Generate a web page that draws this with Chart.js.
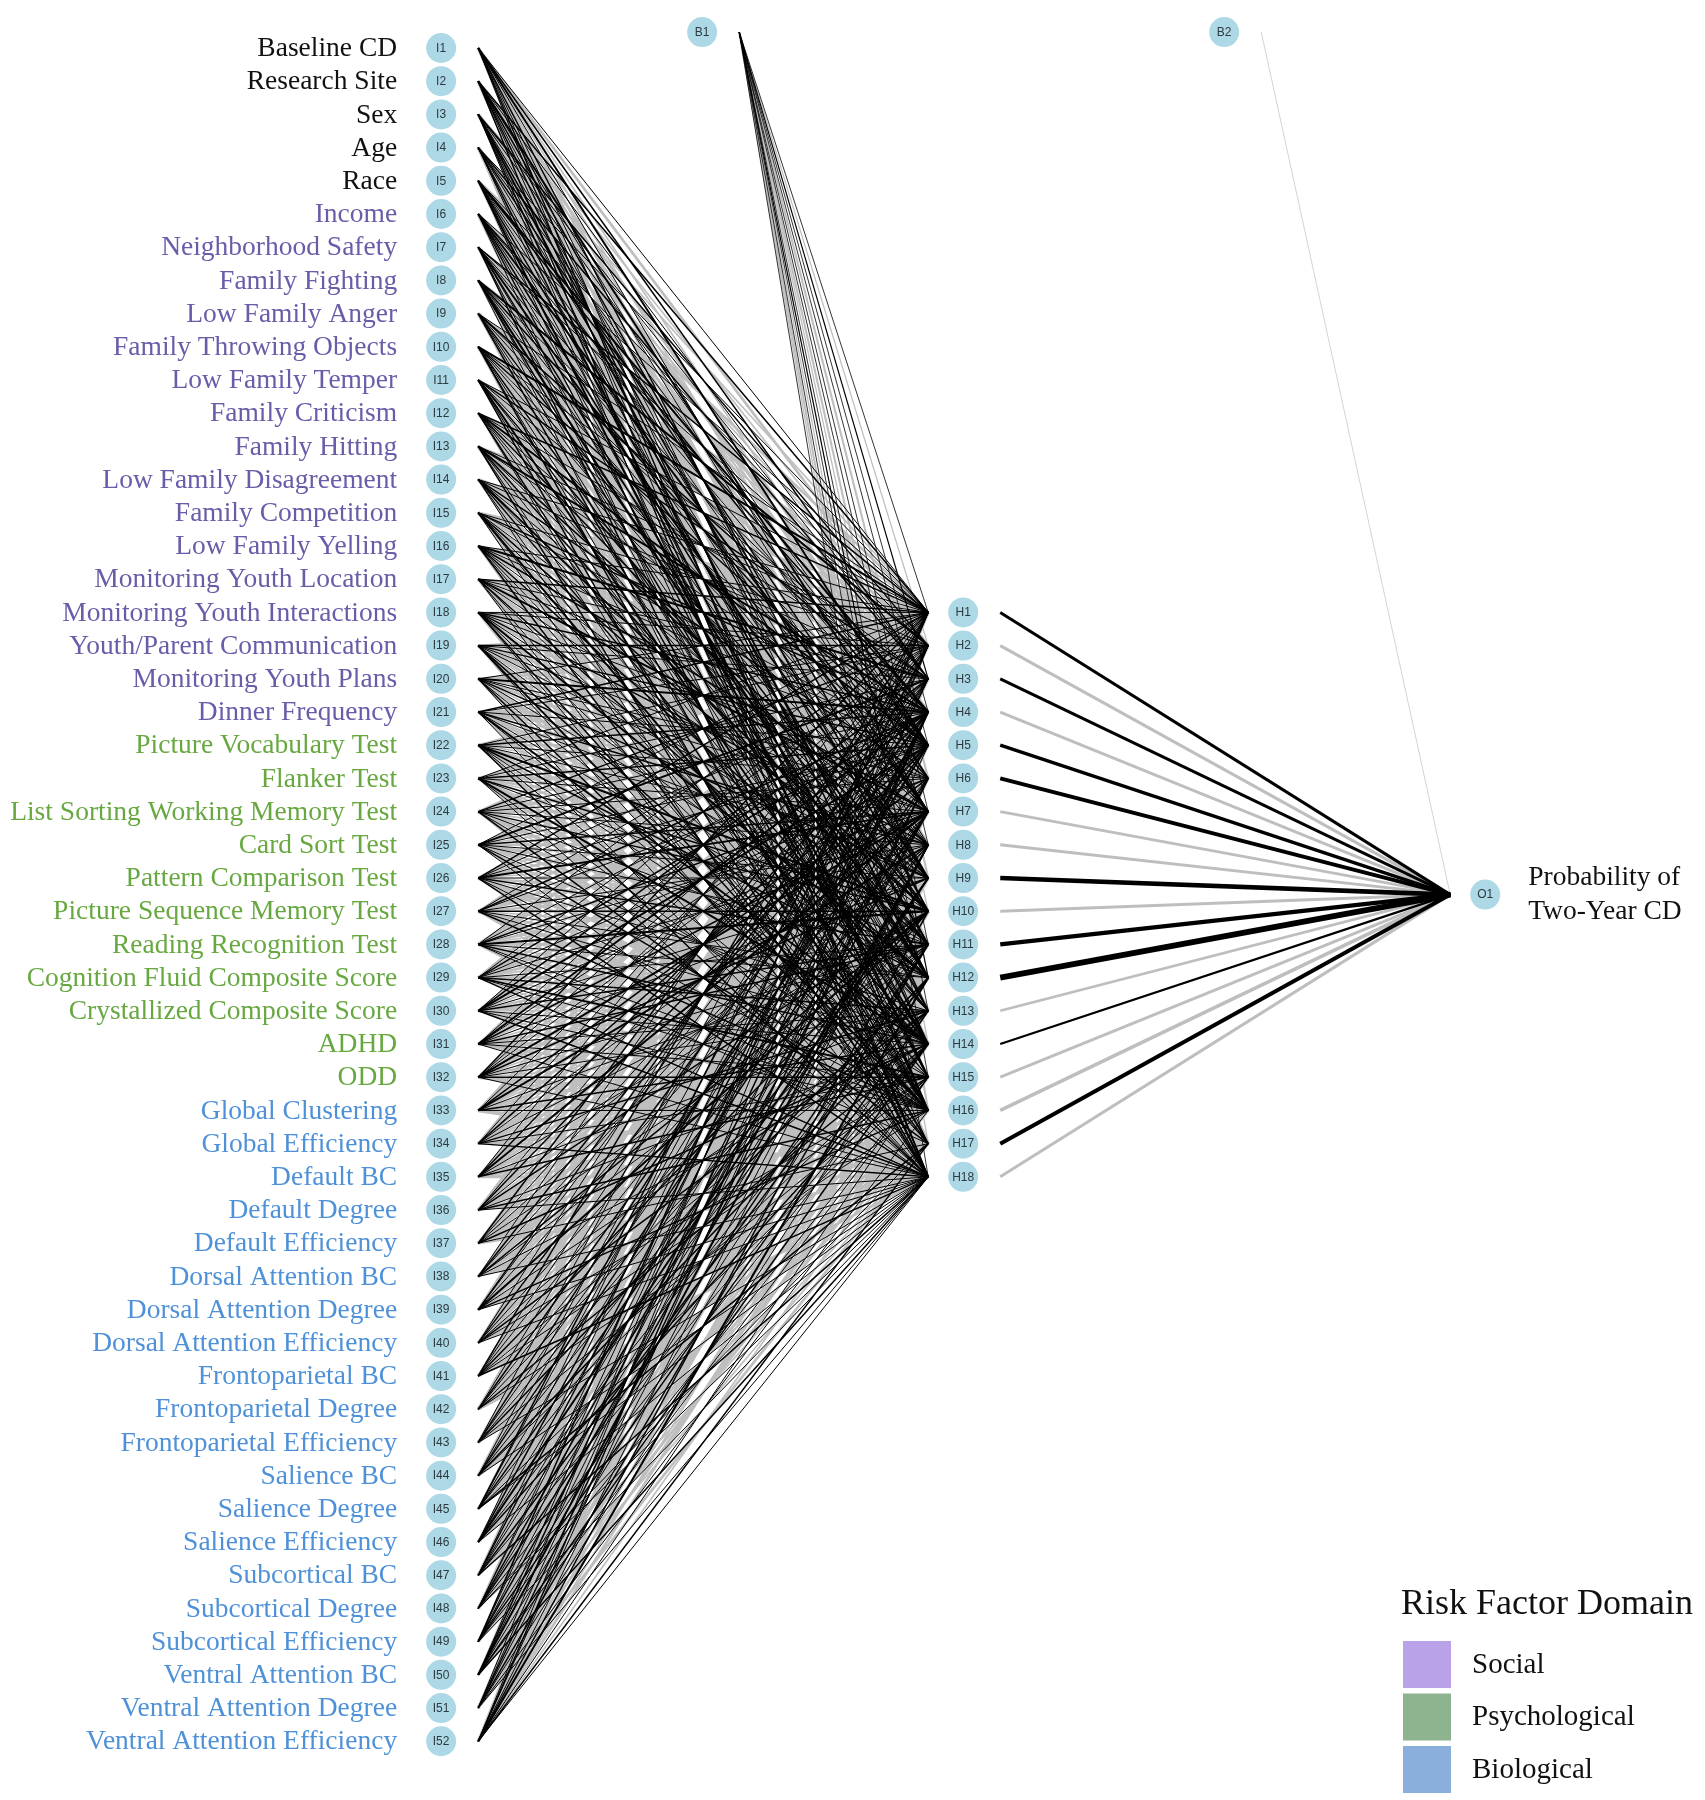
<!DOCTYPE html>
<html>
<head>
    <meta charset="UTF-8" />
    <title>Neural Network - Probability of Two-Year CD</title>
    <script src="https://cdn.jsdelivr.net/npm/chart.js"></script>
    <style>
        * { margin: 0; padding: 0; box-sizing: border-box; }
        body { background: #ffffff; }
        #wrap { width: 1705px; height: 1800px; position: relative; }
    </style>
</head>
<body>
<div id="wrap">
    <canvas id="netChart" width="1705" height="1800"></canvas>
</div>

<script>
    // ---- data ----
    const inputLabels = [
        'Baseline CD', 'Research Site', 'Sex', 'Age', 'Race',
        'Income', 'Neighborhood Safety', 'Family Fighting', 'Low Family Anger', 'Family Throwing Objects',
        'Low Family Temper', 'Family Criticism', 'Family Hitting', 'Low Family Disagreement', 'Family Competition',
        'Low Family Yelling', 'Monitoring Youth Location', 'Monitoring Youth Interactions', 'Youth/Parent Communication',
        'Monitoring Youth Plans', 'Dinner Frequency',
        'Picture Vocabulary Test', 'Flanker Test', 'List Sorting Working Memory Test', 'Card Sort Test',
        'Pattern Comparison Test', 'Picture Sequence Memory Test', 'Reading Recognition Test',
        'Cognition Fluid Composite Score', 'Crystallized Composite Score', 'ADHD', 'ODD',
        'Global Clustering', 'Global Efficiency', 'Default BC', 'Default Degree', 'Default Efficiency',
        'Dorsal Attention BC', 'Dorsal Attention Degree', 'Dorsal Attention Efficiency',
        'Frontoparietal BC', 'Frontoparietal Degree', 'Frontoparietal Efficiency',
        'Salience BC', 'Salience Degree', 'Salience Efficiency',
        'Subcortical BC', 'Subcortical Degree', 'Subcortical Efficiency',
        'Ventral Attention BC', 'Ventral Attention Degree', 'Ventral Attention Efficiency'
    ];
    // domain of each input: 0 = covariate, 1 = social, 2 = psychological, 3 = biological
    const inputDomain = [
        0, 0, 0, 0, 0,
        1, 1, 1, 1, 1, 1, 1, 1, 1, 1, 1, 1, 1, 1, 1, 1,
        2, 2, 2, 2, 2, 2, 2, 2, 2, 2, 2,
        3, 3, 3, 3, 3, 3, 3, 3, 3, 3, 3, 3, 3, 3, 3, 3, 3, 3, 3, 3
    ];
    const hiddenCount = 18;

    // input -> hidden weights, one string per input, one char per hidden node
    // uppercase = positive (black), lowercase = negative (grey), a..e = size 1..5
    const inputToHidden = [
        'AbBaCaAbaBcAbAaBbA', 'BaAbaCAbBaAaBcAbaB', 'aBAcAbaAbBaCaAbBaA', 'AaBbAcBaAbaAcBaAbb',
        'bAaCBaAbAaBbAaCbAa', 'AbaBAaCbAbBaAaBbcA', 'BAabAbAaCbaBAbaAbB', 'aCbAaBbAaAbCaBAabA',
        'AabBAcAbaBaAbAcBaa', 'CaAbBaAbAcaBbAaABb', 'AbBaAcbAaBAbaCbAaB', 'BaAaCbAbBaAcAbaBAa',
        'aAbCAabBAaBbAcaAbB', 'AcAbaBbAaCAbBaaAbA', 'bAaBAcaAbBaAbCAabA', 'AbCaAbBaAaBcAbAaBb',
        'BaAbAaCbAbaBAcaAbA', 'AAbBcAaBbAaCbAaBAb', 'aBAaBbAcAbaAbBaCAa', 'AbaCbAAbBaAcbAaBbA',
        'BAabAcaBAbbAaCAbaA', 'aAcBbAaAbCaBbAaAbB', 'AbAaBcAbaBAabCbAaA', 'bBaAcAbAaBbAcaAbBa',
        'AaCbAaBbAcAbaAbBaA', 'BbAaAbCaAbBaAcbAaB', 'aAbBAcaAbBaAbAcBaa', 'AcbAaBAbaCbAaBbAAb',
        'bAaBbAcAbaAbBaCAaB', 'AbBaCbAaAbBcaAbAaB', 'aAbCAbBaAaBbAcAbaA', 'BaAbAaCbBaAbAaBcbA',
        'abAbaBaCbaAbaBbAac', 'bAabBaAbcAbaBaAbaB', 'AbaBbaCabAbaAbBaab', 'baAbBabAaBcabAaBbA',
        'aBbaAbaAcbAbaBbaAb', 'AabBaAbcaBAbaAbbaA', 'baBAabAbaCbaAbaBbA', 'aAbaBbcAbaAbBaAbaA',
        'BbaAabAbaBcbAaAbaB', 'abAbaBaAbcAbaBbAab', 'AbaaBbAbaAcBbaAbaA', 'bAbaAbBacAbaBAabbA',
        'aBAabAbaBbAcabAaBA', 'AabBabAaCbaAbBaabA', 'bAaBbaAbAacBbAabaB', 'abAAbaBbAaBcaAbbAA',
        'BaAbbAaBacAbBaAbaA', 'aAbBaAbCabAabBAbaB', 'AbaAbBaAbcBaAabAbA', 'bAaBAbaAbBaCabAaBA'
    ];
    // bias B1 -> hidden, same coding
    const biasToHidden = 'AaBAAbAAbaABAaAbaA';
    // hidden -> output weights (line width ~ |w|)
    const hiddenToOutput = [3.0, -3.0, 3.0, -3.0, 3.4, 4.0, -3.0, -3.0, 4.6, -3.0, 4.2, 5.6, -2.6, 2.2, -3.0, -3.6, 4.0, -3.0];
    const biasToOutput = -0.9;

    const domainNames = ['Social', 'Psychological', 'Biological'];
    const domainTextColors = ['#111111', '#6a5ca8', '#68a840', '#4f91d8'];
    const domainSwatchColors = ['#b9a2e8', '#8db48e', '#8aafdc'];

    // ---- layout (x: layer units, y: row units) ----
    const X_IN = 0, X_HID = 1, X_OUT = 2, X_B1 = 0.5, X_B2 = 1.5;
    const START_OFF = 0.071, END_OFF = 0.067;
    const Y_BIAS = 0.52;
    const hiddenFirstRow = 1 + (inputLabels.length - hiddenCount) / 2;
    const outputRow = (1 + inputLabels.length) / 2;

    const POS = '#000000';
    const NEG = '#bebebe';

    function codeWeight(ch) {
        const k = 'abcde'.indexOf(ch.toLowerCase()) + 1;
        return ch === ch.toUpperCase() ? 0.5 + k * 0.5 : -(0.6 + k);
    }

    // black (positive) edges sit above the grey ones
    function edge(x1, y1, x2, y2, w, minW) {
        return {
            type: 'scatter',
            data: [{ x: x1, y: y1 }, { x: x2, y: y2 }],
            showLine: true,
            borderColor: w >= 0 ? POS : NEG,
            borderWidth: Math.max(minW, Math.abs(w)),
            pointRadius: 0,
            clip: false,
            order: w >= 0 ? 2 : 3
        };
    }

    const datasets = [];

    // input -> hidden
    for (let j = 0; j < hiddenCount; j++) {
        for (let i = 0; i < inputLabels.length; i++) {
            const w = codeWeight(inputToHidden[i][j]);
            datasets.push(edge(X_IN + START_OFF, i + 1, X_HID - END_OFF, hiddenFirstRow + j, w, 0.8));
        }
    }
    // B1 -> hidden
    for (let j = 0; j < hiddenCount; j++) {
        const w = codeWeight(biasToHidden[j]) * 0.8;
        datasets.push(edge(X_B1 + START_OFF, Y_BIAS, X_HID - END_OFF, hiddenFirstRow + j, w, 0.8));
    }
    // hidden -> output
    hiddenToOutput.forEach((w, j) => {
        datasets.push(edge(X_HID + START_OFF, hiddenFirstRow + j, X_OUT - END_OFF, outputRow, w, 1));
    });
    // B2 -> output
    const b2 = edge(X_B2 + START_OFF, Y_BIAS, X_OUT - END_OFF, outputRow, biasToOutput, 0.8);
    b2.borderColor = '#cfcfcf';
    datasets.push(b2);

    // nodes
    const nodes = [];
    inputLabels.forEach((l, i) => nodes.push({ x: X_IN, y: i + 1, name: 'I' + (i + 1) }));
    for (let j = 0; j < hiddenCount; j++) nodes.push({ x: X_HID, y: hiddenFirstRow + j, name: 'H' + (j + 1) });
    nodes.push({ x: X_OUT, y: outputRow, name: 'O1' });
    nodes.push({ x: X_B1, y: Y_BIAS, name: 'B1' });
    nodes.push({ x: X_B2, y: Y_BIAS, name: 'B2' });

    datasets.push({
        type: 'scatter',
        data: nodes,
        pointRadius: 15,
        pointBackgroundColor: '#add8e6',
        pointBorderWidth: 0,
        clip: false,
        order: 0
    });

    // text, node names and legend
    const textPlugin = {
        id: 'netText',
        afterDatasetsDraw(chart) {
            const ctx = chart.ctx;
            const xs = chart.scales.x, ys = chart.scales.y;
            ctx.save();

            // node names
            ctx.font = '12px "Liberation Sans", Arial, sans-serif';
            ctx.fillStyle = '#2e3a40';
            ctx.textAlign = 'center';
            ctx.textBaseline = 'middle';
            nodes.forEach(n => {
                ctx.fillText(n.name, xs.getPixelForValue(n.x), ys.getPixelForValue(n.y) + 0.5);
            });

            // input labels
            ctx.font = '27.5px "Liberation Serif", "Times New Roman", serif';
            ctx.textAlign = 'right';
            const lx = xs.getPixelForValue(X_IN) - 44;
            inputLabels.forEach((l, i) => {
                ctx.fillStyle = domainTextColors[inputDomain[i]];
                ctx.fillText(l, lx, ys.getPixelForValue(i + 1) + 1);
            });

            // output label
            ctx.fillStyle = '#111111';
            ctx.textAlign = 'left';
            const ox = xs.getPixelForValue(X_OUT) + 43;
            const oy = ys.getPixelForValue(outputRow);
            ctx.fillText('Probability of', ox, oy - 17);
            ctx.fillText('Two-Year CD', ox, oy + 17);

            // legend
            ctx.font = '36px "Liberation Serif", "Times New Roman", serif';
            ctx.fillText('Risk Factor Domain', 1401, 1605);
            ctx.font = '29px "Liberation Serif", "Times New Roman", serif';
            domainNames.forEach((name, k) => {
                const top = 1641 + k * 52.5;
                ctx.fillStyle = domainSwatchColors[k];
                ctx.fillRect(1403, top, 48, 47);
                ctx.fillStyle = '#111111';
                ctx.fillText(name, 1472, top + 24);
            });

            ctx.restore();
        }
    };

    new Chart(document.getElementById('netChart'), {
        type: 'scatter',
        data: { datasets: datasets },
        options: {
            responsive: false,
            animation: false,
            devicePixelRatio: 1,
            events: [],
            layout: { padding: 0, autoPadding: false },
            scales: {
                x: { type: 'linear', min: -0.845, max: 2.421, display: false },
                y: { type: 'linear', min: -0.446, max: 53.77, reverse: true, display: false }
            },
            plugins: {
                legend: { display: false },
                tooltip: { enabled: false },
                title: { display: false }
            }
        },
        plugins: [textPlugin]
    });
</script>
</body>
</html>
